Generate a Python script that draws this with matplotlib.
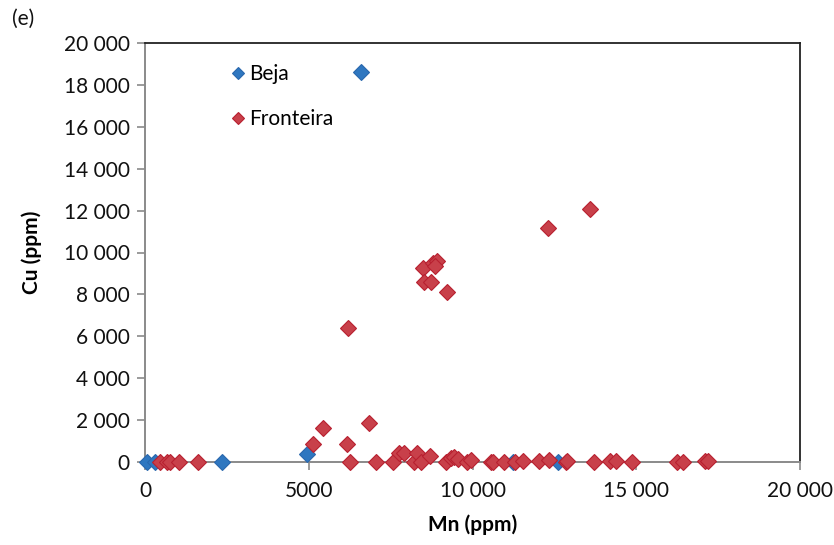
import matplotlib
matplotlib.use("Agg")
import matplotlib.pyplot as plt

plt.rcParams['font.family'] = ['Lato', 'DejaVu Sans']

# Mn and Cu concentrations (ppm)
beja_mn = [60, 300, 2350, 4950, 6600, 11250, 12600]
beja_cu = [0, 0, 0, 380, 18600, 0, 0]

fronteira_mn = [460, 670, 765, 1040, 1620,
                5130, 5440, 6180, 6250, 6210, 6850, 7050,
                7580, 7750, 7900, 8200, 8320, 8440, 8690,
                9200, 9330, 9450, 9550, 9820, 9940, 10550, 10640, 10950,
                11310, 11530, 12020, 12350, 12840, 12900, 13700,
                14200, 14370, 14860, 16240, 16420, 17100, 17200,
                8500, 8780, 8930, 8850, 8520, 8720, 9220, 12320, 13580]
fronteira_cu = [0, 0, 0, 0, 0,
                860, 1620, 860, 0, 6390, 1860, 0,
                0, 430, 430, 0, 430, 0, 300,
                0, 190, 250, 150, 0, 100, 0, 0, 0,
                0, 50, 50, 100, 0, 30, 0,
                50, 50, 0, 0, 0, 50, 30,
                9250, 9480, 9590, 9350, 8600, 8600, 8100, 11160, 12070]

x_ticks = [0, 5000, 10000, 15000, 20000]
x_tick_labels = ["0", "5000", "10 000", "15 000", "20 000"]
y_ticks = list(range(0, 20001, 2000))
y_tick_labels = ["0", "2 000", "4 000", "6 000", "8 000", "10 000",
                 "12 000", "14 000", "16 000", "18 000", "20 000"]

FS = 15

fig = plt.figure(figsize=(8.34, 5.45), dpi=100)
ax = fig.add_axes([145 / 834, 1 - 462 / 545, 655 / 834, 419 / 545])

ax.plot(beja_mn, beja_cu, linestyle="none", marker="D", markersize=8,
        markerfacecolor="#2f77c0", markeredgecolor="#2a68ad",
        markeredgewidth=0.8, label="Beja", clip_on=False, zorder=3)
ax.plot(fronteira_mn, fronteira_cu, linestyle="none", marker="D",
        markersize=8, markerfacecolor="#c8404a",
        markeredgecolor="#b82030", markeredgewidth=0.8,
        label="Fronteira", clip_on=False, zorder=4)

ax.set_xlim(0, 20000)
ax.set_ylim(0, 20000)
ax.set_xticks(x_ticks)
ax.set_xticklabels(x_tick_labels)
ax.set_yticks(y_ticks)
ax.set_yticklabels(y_tick_labels)

ax.tick_params(axis="both", direction="out", length=6, width=1.2,
               color="#8a8a8a", labelsize=FS, labelcolor="#111111")
ax.tick_params(axis="y", pad=5)
ax.tick_params(axis="x", pad=8)

for side in ("left", "bottom"):
    ax.spines[side].set_color("#8a8a8a")
    ax.spines[side].set_linewidth(1.4)
for side in ("top", "right"):
    ax.spines[side].set_color("#222222")
    ax.spines[side].set_linewidth(1.3)

ax.set_xlabel("Mn (ppm)", fontsize=FS, fontweight="bold", labelpad=9)
ax.set_ylabel("Cu (ppm)", fontsize=FS, fontweight="bold", labelpad=16)

leg = ax.legend(loc="upper left", bbox_to_anchor=(0.098, 0.995),
                frameon=False, fontsize=FS, labelspacing=1.2,
                handletextpad=0.0, handlelength=1.0, markerscale=0.75)

fig.text(12 / 834, 1 - 19 / 545, "(e)", fontsize=FS, va="center",
         ha="left", color="#111111")

fig.savefig("out.png", dpi=100)
